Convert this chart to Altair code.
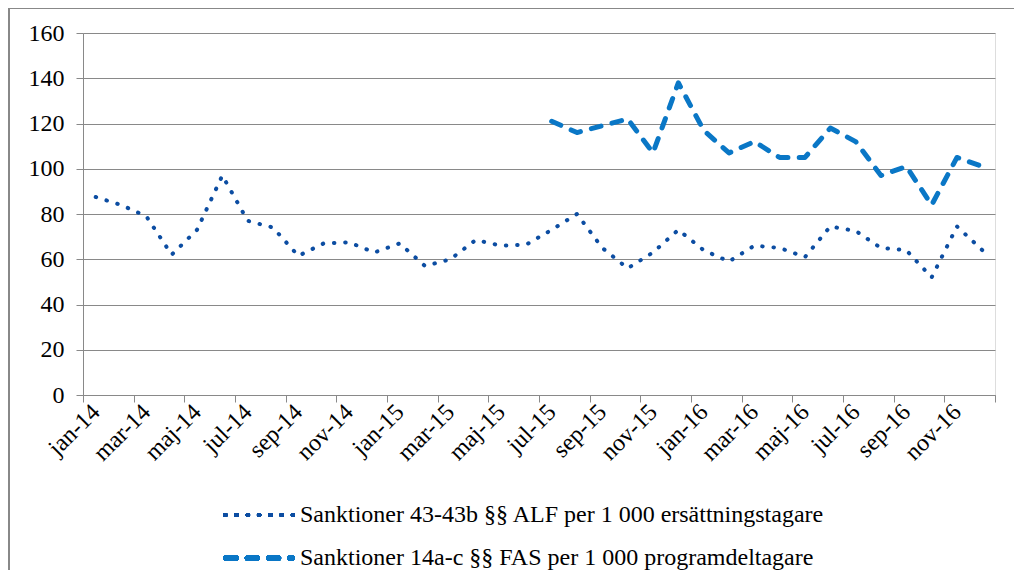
import altair as alt
import pandas as pd

months = ["jan-14", "feb-14", "mar-14", "apr-14", "maj-14", "jun-14", "jul-14", "aug-14", "sep-14", "okt-14", "nov-14", "dec-14",
          "jan-15", "feb-15", "mar-15", "apr-15", "maj-15", "jun-15", "jul-15", "aug-15", "sep-15", "okt-15", "nov-15", "dec-15",
          "jan-16", "feb-16", "mar-16", "apr-16", "maj-16", "jun-16", "jul-16", "aug-16", "sep-16", "okt-16", "nov-16", "dec-16"]

alf_values = [87.5, 84, 79, 62, 73, 97, 77, 74, 61.5, 67, 67.5, 63,
              67, 57, 60, 68.5, 66, 66.5, 73, 80, 65, 56, 63, 73,
              64, 59, 66, 65, 61, 74.5, 72.5, 65, 64, 52, 74.5, 64]

fas_months = months[18:]
fas_values = [121, 116, 119, 122, 107, 138, 117, 107, 112, 105, 105, 118, 112, 97, 101, 84, 105, 101]

tick_labels = ["jan-14", "mar-14", "maj-14", "jul-14", "sep-14", "nov-14",
               "jan-15", "mar-15", "maj-15", "jul-15", "sep-15", "nov-15",
               "jan-16", "mar-16", "maj-16", "jul-16", "sep-16", "nov-16"]

alf_name = "Sanktioner 43-43b §§ ALF per 1 000 ersättningstagare"
fas_name = "Sanktioner 14a-c §§ FAS per 1 000 programdeltagare"

ALF_COLOR = "#0C4DA2"
FAS_COLOR = "#0A77C6"
GRAY = "#898989"
FONT = "Liberation Serif"
FS = 24

W, H = 912, 362
PAD_L, PAD_T = 75, 25
TOTAL_W, TOTAL_H = 1006, 562

alf_df = pd.DataFrame({"i": list(range(len(months))), "month": months, "v": alf_values})
fas_df = pd.DataFrame({"i": [months.index(m) for m in fas_months], "month": fas_months, "v": fas_values})

label_js = "[" + ",".join("'" + t + "'" for t in tick_labels) + "]"
label_expr = f"datum.value > 35 ? '' : {label_js}[round((datum.value + 0.5) / 2)]"

xscale = alt.Scale(domain=[-0.5, 35.5], nice=False, zero=False)
yscale = alt.Scale(domain=[0, 160], nice=False)


def x_axis():
    return alt.Axis(values=[-0.5 + 2 * k for k in range(19)], labelExpr=label_expr,
                    labelAngle=315, labelAlign="right", labelBaseline="middle",
                    labelOffset=12.67, labelPadding=6, labelOverlap=False, labelFlush=False,
                    labelBound=False, tickSize=7, tickColor=GRAY, domainColor=GRAY,
                    grid=False, title=None, labelFont=FONT, labelFontSize=FS, labelColor="black")


def y_axis():
    return alt.Axis(values=list(range(0, 161, 20)), tickSize=7, tickColor=GRAY, domainColor=GRAY,
                    gridColor=GRAY, grid=True, title=None, labelFont=FONT, labelFontSize=FS,
                    labelColor="black", labelPadding=12)


alf_line = alt.Chart(alf_df).mark_line(
    color=ALF_COLOR, strokeWidth=4, strokeDash=[0.5, 10.8], strokeCap="round", strokeJoin="round"
).encode(
    x=alt.X("i:Q", scale=xscale, axis=x_axis()),
    y=alt.Y("v:Q", scale=yscale, axis=y_axis()),
)

fas_line = alt.Chart(fas_df).mark_line(
    color=FAS_COLOR, strokeWidth=5, strokeDash=[10, 11.3], strokeCap="round", strokeJoin="round"
).encode(
    x=alt.X("i:Q", scale=xscale, axis=x_axis()),
    y=alt.Y("v:Q", scale=yscale, axis=y_axis()),
)

border_left = alt.Chart(alf_df).mark_rule(color=GRAY, strokeWidth=1.5).encode(
    x=alt.value(-74), y=alt.value(-25), y2=alt.value(TOTAL_H))
border_top = alt.Chart(alf_df).mark_rule(color=GRAY, strokeWidth=1.5).encode(
    x=alt.value(-74), x2=alt.value(TOTAL_W), y=alt.value(-25))

leg_alf = alt.Chart(alf_df).mark_rule(
    color=ALF_COLOR, strokeWidth=4, strokeDash=[0.5, 10.8], strokeCap="round"
).encode(x=alt.value(142), x2=alt.value(210), y=alt.value(482))
leg_fas = alt.Chart(alf_df).mark_rule(
    color=FAS_COLOR, strokeWidth=5, strokeDash=[10, 11.3], strokeCap="round"
).encode(x=alt.value(143), x2=alt.value(209), y=alt.value(525))

leg_text1 = alt.Chart(pd.DataFrame({"t": [alf_name]})).mark_text(
    font=FONT, fontSize=FS, color="black", align="left", baseline="alphabetic"
).encode(x=alt.value(217), y=alt.value(489), text="t:N")
leg_text2 = alt.Chart(pd.DataFrame({"t": [fas_name]})).mark_text(
    font=FONT, fontSize=FS, color="black", align="left", baseline="alphabetic"
).encode(x=alt.value(217), y=alt.value(532), text="t:N")

chart = alt.layer(
    alf_line, fas_line, border_left, border_top, leg_alf, leg_fas, leg_text1, leg_text2
).properties(
    width=W, height=H,
    autosize=alt.AutoSizeParams(type="none"),
    padding={"left": PAD_L, "top": PAD_T, "right": TOTAL_W - PAD_L - W, "bottom": TOTAL_H - PAD_T - H},
).configure_view(stroke=None).configure(background="white")

chart.save("out.html", embed_options={"renderer": "svg", "actions": False})
